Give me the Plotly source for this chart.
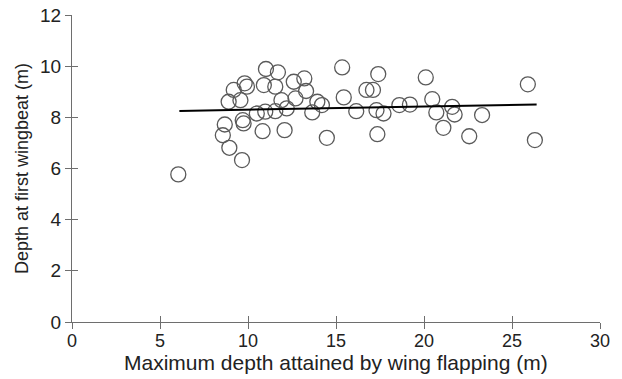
import plotly.graph_objects as go

# Maximum depth attained by wing flapping (m)
max_depth = [6.04, 11.02, 11.7, 12.6, 9.81, 9.94, 9.19, 10.9, 11.55, 8.9,
             9.57, 11.9, 12.7, 10.5, 10.98, 11.55, 12.2, 9.7, 9.75, 8.68,
             8.57, 8.94, 9.66, 10.83, 12.08,
             13.2, 13.3, 15.35, 17.4, 16.73, 17.1, 15.44, 13.94, 14.2, 13.65,
             16.15, 17.3, 17.7, 18.6, 19.2, 14.48, 17.35,
             20.1, 20.47, 21.6, 20.7, 21.74, 23.3, 21.1, 22.57, 25.9, 26.3]
# Depth at first wingbeat (m)
first_beat = [5.77, 9.89, 9.76, 9.39, 9.33, 9.2, 9.07, 9.26, 9.2, 8.61,
              8.67, 8.67, 8.74, 8.15, 8.22, 8.24, 8.35, 7.89, 7.76, 7.72,
              7.3, 6.81, 6.33, 7.46, 7.5,
              9.52, 9.03, 9.95, 9.69, 9.07, 9.07, 8.78, 8.61, 8.48, 8.19,
              8.24, 8.28, 8.15, 8.48, 8.5, 7.2, 7.34,
              9.56, 8.71, 8.41, 8.19, 8.11, 8.09, 7.59, 7.26, 9.29, 7.11]

fit_x = [6.1, 26.4]
fit_y = [8.25, 8.5]

x_ticks = [0, 5, 10, 15, 20, 25, 30]
y_ticks = [0, 2, 4, 6, 8, 10, 12]

x_title = "Maximum depth attained by wing flapping (m)"
y_title = "Depth at first wingbeat (m)"

FONT = "Liberation Sans, Arial, sans-serif"
AX = "#6e6e6e"

fig = go.Figure()
fig.add_trace(go.Scatter(
    x=max_depth, y=first_beat, mode="markers",
    marker=dict(symbol="circle-open", size=15, color="#5a5a5a",
                line=dict(width=1.3, color="#5a5a5a")),
    showlegend=False, hoverinfo="skip"))
fig.add_trace(go.Scatter(
    x=fit_x, y=fit_y, mode="lines",
    line=dict(color="black", width=2), showlegend=False, hoverinfo="skip"))
# invisible trace for the inner-tick overlay axes
fig.add_trace(go.Scatter(x=[0], y=[0], xaxis="x2", yaxis="y2", mode="markers",
                         marker=dict(opacity=0), showlegend=False, hoverinfo="skip"))

common = dict(showgrid=False, zeroline=False, tickcolor=AX, tickwidth=1.2,
              ticklen=6, automargin=False)
fig.update_layout(
    width=622, height=379,
    margin=dict(l=72, r=22, t=15, b=57),
    paper_bgcolor="white", plot_bgcolor="white",
    font=dict(family=FONT, size=18, color="#222"),
    xaxis=dict(range=[0, 30], tickvals=x_ticks, ticks="outside",
               showline=True, linecolor=AX, linewidth=1.2,
               ticklabelstandoff=-4,
               tickfont=dict(size=18), **common),
    yaxis=dict(range=[0, 12], tickvals=y_ticks, ticks="outside",
               showline=True, linecolor=AX, linewidth=1.2,
               title=dict(text=y_title, font=dict(size=18), standoff=6),
               tickfont=dict(size=19), **common),
    xaxis2=dict(range=[0, 30], tickvals=x_ticks, ticks="inside", overlaying="x",
                anchor="y", side="bottom", showline=False, showticklabels=False, **common),
    yaxis2=dict(range=[0, 12], tickvals=y_ticks, ticks="inside", overlaying="y",
                anchor="x", side="left", showline=False, showticklabels=False, **common),
    annotations=[dict(text=x_title, xref="paper", yref="paper", x=0.5, y=-0.132,
                      xanchor="center", yanchor="middle", showarrow=False,
                      font=dict(size=21, family=FONT, color="#222"))],
)

fig.write_html("out.html")
